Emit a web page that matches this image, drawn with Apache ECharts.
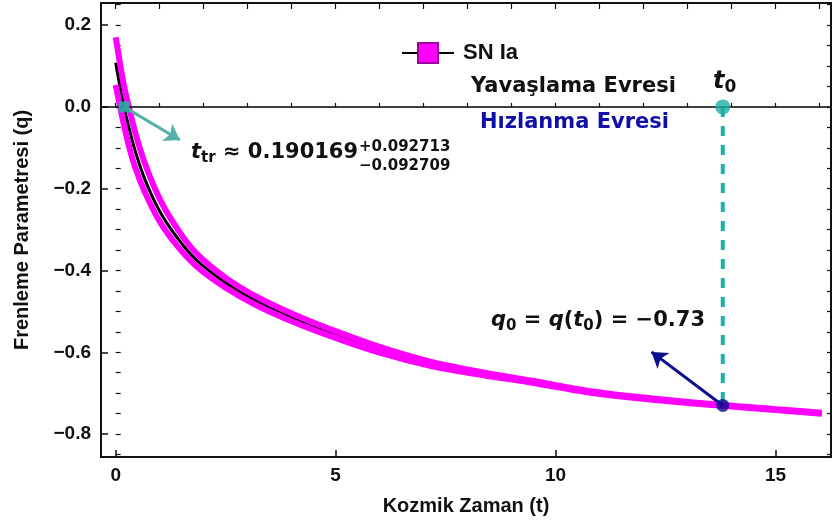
<!DOCTYPE html>
<html>
<head>
<meta charset="utf-8">
<script src="https://cdn.jsdelivr.net/npm/echarts@6/dist/echarts.min.js"></script>
<style>
  html, body { margin: 0; padding: 0; background: #fff; }
  #chart { width: 832px; height: 526px; }
</style>
</head>
<body>
<div id="chart"></div>
<script>
// kozmik zaman (t) ve frenleme parametresi q(t)
const tValues = [0, 0.1, 0.19, 0.3, 0.45, 0.67, 1.0, 1.4, 1.84, 2.5, 3.2, 4.0, 4.87, 6.0, 7.15, 8.3, 9.43, 10.8, 12.2, 13.8, 15.0, 16.05];
const qCenter = [0.108, 0.048, 0.0, -0.05, -0.11, -0.179, -0.255, -0.32, -0.375, -0.43, -0.475, -0.515, -0.552, -0.595, -0.63, -0.652, -0.672, -0.697, -0.715, -0.73, -0.74, -0.749];
// SN Ia bandinin ust ve alt siniri
const qUpper = [0.17, 0.105, 0.05, 0.0, -0.065, -0.14, -0.225, -0.298, -0.359, -0.418, -0.464, -0.505, -0.543, -0.587, -0.623, -0.648, -0.669, -0.695, -0.713, -0.729, -0.739, -0.748];
const qLower = [0.054, 0.0, -0.045, -0.095, -0.15, -0.21, -0.28, -0.34, -0.39, -0.442, -0.485, -0.524, -0.56, -0.601, -0.633, -0.655, -0.674, -0.699, -0.716, -0.731, -0.741, -0.75];

// eksen isaretleri
const xTicks = [0, 5, 10, 15];
const xMinorTicks = [0, 1, 2, 3, 4, 5, 6, 7, 8, 9, 10, 11, 12, 13, 14, 15, 16];
const yTicks = [-0.8, -0.6, -0.4, -0.2, 0, 0.2];
const yMinorTicks = [-0.85, -0.8, -0.75, -0.7, -0.65, -0.6, -0.55, -0.5, -0.45, -0.4, -0.35, -0.3, -0.25, -0.2, -0.15, -0.1, -0.05, 0, 0.05, 0.1, 0.15, 0.2, 0.25];

// ozel noktalar
const tTransition = 0.19;
const tToday = 13.8;
const qToday = -0.73;
const tealArrowEnd = [1.46, -0.081];
const blueArrowEnd = [12.18, -0.599];

const X_MIN = -0.334, X_MAX = 16.26;
const Y_MIN = -0.856, Y_MAX = 0.254;

const tickFont = { fontFamily: 'Liberation Sans', fontWeight: 'bold', fontSize: 19, color: '#111' };
const noteFamily = '"DejaVu Sans"';

function pairs(ts, qs) {
  return ts.map((t, i) => [t, qs[i]]);
}

const chart = echarts.init(document.getElementById('chart'));

const option = {
  backgroundColor: '#fff',
  animation: false,
  grid: { left: 101, right: 1, top: 3, bottom: 69, show: false, outerBoundsMode: 'none', containLabel: false },
  legend: {
    data: ['SN Ia'],
    left: 396, top: 37,
    itemWidth: 52, itemHeight: 25,
    selectedMode: false,
    textStyle: { fontFamily: 'Liberation Sans', fontWeight: 'bold', fontSize: 22, color: '#111', padding: [0, 0, 0, 4] }
  },
  xAxis: [
    {
      type: 'value', position: 'bottom', min: X_MIN, max: X_MAX,
      axisLine: { onZero: false, lineStyle: { color: '#111', width: 2 } },
      axisTick: { inside: true, length: 7, customValues: xTicks, lineStyle: { color: '#111', width: 1.5 } },
      axisLabel: { customValues: xTicks, margin: 9, ...tickFont },
      splitLine: { show: false },
      name: 'Kozmik Zaman (t)', nameLocation: 'middle', nameGap: 39,
      nameTextStyle: { fontFamily: 'Liberation Sans', fontWeight: 'bold', fontSize: 20, color: '#111' }
    },
    {
      type: 'value', position: 'bottom', min: X_MIN, max: X_MAX,
      axisLine: { show: false },
      axisTick: { inside: true, length: 4, customValues: xMinorTicks, lineStyle: { color: '#111', width: 1.2 } },
      axisLabel: { show: false }, splitLine: { show: false }
    },
    {
      type: 'value', position: 'top', min: X_MIN, max: X_MAX,
      axisLine: { onZero: false, lineStyle: { color: '#111', width: 2 } },
      axisTick: { inside: true, length: 6, customValues: xMinorTicks, lineStyle: { color: '#111', width: 1.2 } },
      axisLabel: { show: false }, splitLine: { show: false }
    }
  ],
  yAxis: [
    {
      type: 'value', position: 'left', min: Y_MIN, max: Y_MAX,
      axisLine: { show: true, onZero: false, lineStyle: { color: '#111', width: 2 } },
      axisTick: { show: true, inside: true, length: 7, customValues: yTicks, lineStyle: { color: '#111', width: 1.5 } },
      axisLabel: {
        customValues: yTicks, margin: 10, ...tickFont,
        formatter: v => (v < -1e-9 ? '\u2212' : '') + Math.abs(v).toFixed(1)
      },
      splitLine: { show: false },
      name: 'Frenleme Parametresi (q)', nameLocation: 'middle', nameGap: 69,
      nameTextStyle: { fontFamily: 'Liberation Sans', fontWeight: 'bold', fontSize: 20, color: '#111' }
    },
    {
      type: 'value', position: 'left', min: Y_MIN, max: Y_MAX,
      axisLine: { show: false },
      axisTick: { show: true, inside: true, length: 5, customValues: yMinorTicks, lineStyle: { color: '#111', width: 1.2 } },
      axisLabel: { show: false }, splitLine: { show: false }
    },
    {
      type: 'value', position: 'right', min: Y_MIN, max: Y_MAX,
      axisLine: { show: true, onZero: false, lineStyle: { color: '#111', width: 2 } },
      axisTick: { show: true, inside: true, length: 4, customValues: yMinorTicks, lineStyle: { color: '#111', width: 1.2 } },
      axisLabel: { show: false }, splitLine: { show: false }
    }
  ],
  series: [
    {
      // ortadaki egri
      type: 'line', data: pairs(tValues, qCenter),
      smooth: 0.4, showSymbol: false, z: 2,
      lineStyle: { color: '#000', width: 3 },
      markLine: {
        silent: true, symbol: 'none', label: { show: false },
        lineStyle: { color: '#000', width: 1.5, type: 'solid' },
        data: [{ yAxis: 0 }]
      }
    },
    {
      type: 'line', data: pairs(tValues, qUpper),
      smooth: 0.4, showSymbol: false, z: 3,
      lineStyle: { color: '#FF00FF', width: 6 }
    },
    {
      type: 'line', data: pairs(tValues, qLower),
      smooth: 0.4, showSymbol: false, z: 3,
      lineStyle: { color: '#FF00FF', width: 6 }
    },
    {
      // t0 dikey kesikli cizgi
      type: 'line', data: [[tToday, 0], [tToday, qToday]],
      showSymbol: false, z: 4,
      lineStyle: { color: '#1FB0A8', width: 4, type: [10, 9] }
    },
    {
      // oklar
      type: 'line', data: [], z: 5,
      markLine: {
        silent: true, symbol: ['none', 'arrow'], symbolSize: 15,
        label: { show: false },
        data: [
          [{ coord: [tTransition, 0], lineStyle: { color: '#55B0AA', width: 3, type: 'solid' } },
           { coord: tealArrowEnd }],
          [{ coord: [tToday, qToday], lineStyle: { color: '#0C0C90', width: 3, type: 'solid' } },
           { coord: blueArrowEnd }]
        ]
      }
    },
    {
      type: 'scatter', data: [[tTransition, 0]], symbol: 'rect', symbolSize: 11, z: 6,
      itemStyle: { color: '#2FA9A0', opacity: 0.9 }
    },
    {
      type: 'scatter', data: [[tToday, 0]], symbolSize: 15, z: 6,
      itemStyle: { color: '#1DAFA6' }
    },
    {
      type: 'scatter', data: [[tToday, qToday]], symbolSize: 13, z: 6,
      itemStyle: { color: '#0A0A8C' }
    },
    {
      // lejant icin
      name: 'SN Ia', type: 'line', data: [],
      symbol: 'rect', symbolSize: 19,
      lineStyle: { color: '#000', width: 4 },
      itemStyle: { color: '#FF00FF', borderColor: '#A000A0', borderWidth: 1 }
    }
  ],
  graphic: [
    {
      type: 'text', x: 471, y: 87, z: 10,
      style: { text: 'Yavaşlama Evresi', font: 'bold 21px ' + noteFamily, fill: '#111',
        align: 'left', verticalAlign: 'middle', textAlign: 'left', textVerticalAlign: 'middle' }
    },
    {
      type: 'text', x: 480, y: 123, z: 10,
      style: { text: 'Hızlanma Evresi', font: 'bold 21px ' + noteFamily, fill: '#1010A8',
        align: 'left', verticalAlign: 'middle', textAlign: 'left', textVerticalAlign: 'middle' }
    },
    {
      type: 'text', x: 713, y: 82, z: 10,
      style: {
        text: '{i|t}{s|0}',
        align: 'left', verticalAlign: 'middle', textAlign: 'left', textVerticalAlign: 'middle',
        rich: {
          i: { fontFamily: noteFamily, fontStyle: 'italic', fontWeight: 'bold', fontSize: 24, lineHeight: 28, fill: '#111', color: '#111' },
          s: { fontFamily: noteFamily, fontWeight: 'bold', fontSize: 17, lineHeight: 18, verticalAlign: 'bottom', fill: '#111', color: '#111' }
        }
      }
    },
    {
      type: 'text', x: 191, y: 153, z: 10,
      style: {
        text: '{i|t}{s|tr}{n| ≈ 0.190169}',
        align: 'left', verticalAlign: 'middle', textAlign: 'left', textVerticalAlign: 'middle',
        rich: {
          i: { fontFamily: noteFamily, fontStyle: 'italic', fontWeight: 'bold', fontSize: 21, lineHeight: 26, fill: '#111', color: '#111' },
          n: { fontFamily: noteFamily, fontWeight: 'bold', fontSize: 21, lineHeight: 26, fill: '#111', color: '#111' },
          s: { fontFamily: noteFamily, fontWeight: 'bold', fontSize: 15, lineHeight: 15, verticalAlign: 'bottom', fill: '#111', color: '#111' }
        }
      }
    },
    {
      type: 'text', x: 359, y: 147, z: 10,
      style: { text: '+0.092713', font: 'bold 15px ' + noteFamily, fill: '#111',
        align: 'left', verticalAlign: 'middle', textAlign: 'left', textVerticalAlign: 'middle' }
    },
    {
      type: 'text', x: 359, y: 166, z: 10,
      style: { text: '\u22120.092709', font: 'bold 15px ' + noteFamily, fill: '#111',
        align: 'left', verticalAlign: 'middle', textAlign: 'left', textVerticalAlign: 'middle' }
    },
    {
      type: 'text', x: 491, y: 321, z: 10,
      style: {
        text: '{i|q}{s|0}{n| = }{i|q}{n|(}{i|t}{s|0}{n|) = \u22120.73}',
        align: 'left', verticalAlign: 'middle', textAlign: 'left', textVerticalAlign: 'middle',
        rich: {
          i: { fontFamily: noteFamily, fontStyle: 'italic', fontWeight: 'bold', fontSize: 21, lineHeight: 26, fill: '#111', color: '#111' },
          n: { fontFamily: noteFamily, fontWeight: 'bold', fontSize: 21, lineHeight: 26, fill: '#111', color: '#111' },
          s: { fontFamily: noteFamily, fontWeight: 'bold', fontSize: 15, lineHeight: 15, verticalAlign: 'bottom', fill: '#111', color: '#111' }
        }
      }
    }
  ]
};

chart.setOption(option);
</script>
</body>
</html>
